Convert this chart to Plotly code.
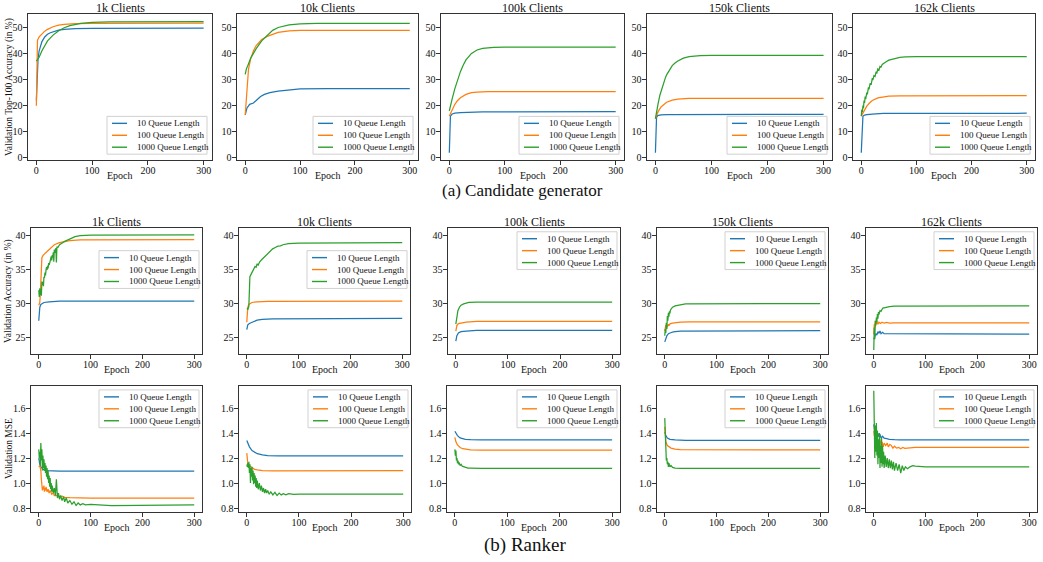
import plotly.graph_objects as go

W, H = 1043, 562
FONT = "Liberation Serif"

SERIES = ["10 Queue Length", "100 Queue Length", "1000 Queue Length"]
COLORS = ["#1f77b4", "#ff7f0e", "#2ca02c"]
CLIENTS = ["1k Clients", "10k Clients", "100k Clients", "150k Clients", "162k Clients"]
X_TICKS = [0, 100, 200, 300]
CG_Y_TICKS = [0, 10, 20, 30, 40, 50]
RA_Y_TICKS = [25, 30, 35, 40]
RM_Y_TICKS = [0.8, 1.0, 1.2, 1.4, 1.6]
ROW_YLABELS = ["Validation Top-100 Accuracy (in %)", "Validation Accuracy (in %)", "Validation MSE"]
X_LABEL = "Epoch"
CAPTIONS = ["(a) Candidate generator", "(b) Ranker"]

# ---------------- (a) Candidate generator: top-100 accuracy (epoch, value) ----------------
CG_1K_Q10 = [(0, 22), (1, 30), (2, 35), (3, 38), (5, 41), (8, 43.5), (10, 44.5), (15, 46.3), (20, 47.3),
             (25, 47.9), (30, 48.3), (40, 48.9), (50, 49.2), (70, 49.5), (100, 49.6), (300, 49.7)]
CG_1K_Q100 = [(0, 20), (1, 44), (2, 45), (5, 46.3), (10, 47.6), (15, 48.5), (20, 49.2), (30, 50.2),
              (40, 50.8), (50, 51.1), (70, 51.4), (100, 51.5), (300, 51.6)]
CG_1K_Q1000 = [(0, 37), (3, 37.8), (5, 38.5), (10, 41), (15, 43), (20, 44.8), (30, 47), (40, 48.7),
               (50, 49.8), (60, 50.6), (80, 51.5), (100, 51.9), (130, 52.1), (300, 52.2)]

CG_10K_Q10 = [(0, 16.5), (3, 19), (8, 20.5), (12, 20.8), (15, 21), (20, 22), (28, 23.5), (35, 24.3),
              (45, 25), (60, 25.6), (80, 26.1), (100, 26.4), (150, 26.5), (300, 26.5)]
CG_10K_Q100 = [(0, 16.5), (2, 24), (4, 30), (6, 34), (10, 38), (15, 41), (20, 43), (30, 45.3), (40, 46.5),
               (50, 47.3), (60, 48), (80, 48.6), (100, 48.8), (300, 48.8)]
CG_10K_Q1000 = [(0, 32), (2, 34), (5, 35.5), (10, 38.2), (15, 40), (20, 41.8), (30, 44.8), (40, 47),
                (50, 48.8), (60, 49.9), (80, 50.9), (100, 51.3), (130, 51.5), (300, 51.5)]

CG_100K_Q10 = [(0, 2), (2, 16), (5, 16.8), (10, 17.1), (20, 17.3), (40, 17.5), (60, 17.6), (300, 17.7)]
CG_100K_Q100 = [(0, 16), (3, 17.5), (5, 18.5), (10, 20.5), (15, 22), (20, 23), (30, 24.3), (40, 25),
                (50, 25.2), (70, 25.4), (300, 25.4)]
CG_100K_Q1000 = [(0, 18), (2, 20), (5, 22.5), (10, 26.5), (15, 30), (20, 33), (25, 35.5), (30, 37.5),
                 (40, 40), (50, 41.3), (60, 41.9), (80, 42.3), (100, 42.4), (300, 42.4)]

CG_150K_Q10 = [(0, 2), (2, 15.5), (4, 16.2), (10, 16.5), (20, 16.6), (300, 16.7)]
CG_150K_Q100 = [(0, 15), (3, 16.8), (5, 17.8), (10, 19.5), (15, 20.6), (20, 21.3), (30, 22.1), (40, 22.5),
                (60, 22.8), (300, 22.8)]
CG_150K_Q1000 = [(0, 15), (2, 18), (5, 21), (8, 24), (10, 25.5), (13, 27.8), (15, 29), (18, 30.8),
                 (20, 31.8), (25, 33.8), (30, 35.3), (35, 36.3), (40, 37.1), (50, 38.2), (60, 38.8),
                 (80, 39.1), (100, 39.2), (300, 39.2)]

CG_162K_Q10 = [(0, 2), (3, 16), (6, 16.4), (10, 16.6), (20, 16.8), (40, 17), (300, 17.1)]
CG_162K_Q100 = [(0, 16), (3, 17.2), (5, 18), (10, 19.8), (15, 21), (20, 22), (30, 23), (40, 23.4),
                (50, 23.6), (70, 23.7), (300, 23.8)]
CG_162K_Q1000 = [(0, 16), (1, 18.5), (2, 17.5), (3, 20), (4, 19), (5, 22), (6, 21), (7, 23.5), (8, 22.5),
                 (10, 25), (11, 24.3), (13, 27), (14, 26.2), (16, 28.5), (18, 28), (20, 30.5), (21, 29.8),
                 (23, 31.5), (25, 31.2), (27, 33), (28, 32.3), (30, 34), (32, 33.6), (34, 35), (36, 34.8),
                 (38, 35.8), (40, 36), (45, 36.8), (50, 37.4), (60, 38.1), (70, 38.5), (80, 38.7),
                 (100, 38.8), (300, 38.8)]

# ---------------- (b) Ranker: validation accuracy ----------------
RA_1K_Q10 = [(0, 27.5), (1, 28.8), (2, 29.5), (4, 29.9), (7, 30.1), (10, 30.2), (20, 30.3), (40, 30.4),
             (300, 30.4)]
RA_1K_Q100 = [(0, 29.8), (2, 30.2), (3, 31.5), (4, 34), (5, 36), (6, 36.8), (8, 37.1), (10, 37.3),
              (13, 37.5), (16, 37.7), (20, 38), (25, 38.4), (30, 38.7), (40, 39.0), (50, 39.2), (60, 39.3),
              (80, 39.4), (300, 39.45)]
RA_1K_Q1000 = [(0, 32), (1, 31), (2, 32.3), (3, 31.3), (4, 32.2), (5, 31.2), (6, 33.3), (7, 32.8), (8, 33.2),
               (9, 32.6), (10, 34), (11, 33.8), (12, 34.6), (13, 34.2), (14, 35), (15, 35.4), (16, 35),
               (17, 35.6), (18, 35.2), (19, 36), (20, 35.7), (22, 36.3), (24, 37), (25, 36.4), (26, 37.2),
               (27, 36.8), (28, 37.6), (29, 36.2), (30, 38), (31, 37.5), (33, 38.2), (34, 36.1), (35, 38.4),
               (37, 38.3), (40, 38.7), (43, 38.9), (46, 39), (50, 39.2), (55, 39.4), (60, 39.6), (65, 39.8),
               (70, 39.9), (80, 40.05), (100, 40.1), (300, 40.15)]

RA_10K_Q10 = [(0, 26.2), (1, 26.6), (2, 26.9), (5, 27.1), (10, 27.3), (20, 27.6), (30, 27.7), (50, 27.8),
              (300, 27.85)]
RA_10K_Q100 = [(0, 27.3), (1, 28.5), (2, 29.5), (4, 29.9), (7, 30.1), (10, 30.2), (20, 30.3), (40, 30.35),
               (300, 30.4)]
RA_10K_Q1000 = [(0, 29.3), (2, 29.2), (4, 29.6), (5, 31), (6, 34), (8, 34.3), (10, 34.6), (12, 34.9),
                (14, 35.1), (16, 35.5), (18, 35.4), (20, 35.9), (22, 35.7), (25, 36.2), (30, 36.6), (35, 37),
                (40, 37.4), (45, 37.8), (50, 38.1), (55, 38.3), (60, 38.5), (65, 38.55), (70, 38.7),
                (80, 38.85), (100, 38.95), (300, 39.0)]

RA_100K_Q10 = [(0, 24.5), (2, 25.3), (5, 25.7), (10, 25.9), (20, 26), (40, 26.1), (300, 26.1)]
RA_100K_Q100 = [(0, 26), (2, 26.8), (5, 27.1), (10, 27.2), (20, 27.3), (40, 27.4), (300, 27.4)]
RA_100K_Q1000 = [(0, 27), (2, 28.3), (4, 29), (7, 29.5), (10, 29.8), (15, 30), (25, 30.2), (40, 30.25),
                 (300, 30.25)]

RA_150K_Q10 = [(0, 24.4), (2, 25), (4, 25.3), (7, 25.6), (10, 25.7), (15, 25.85), (20, 25.9), (30, 26),
               (300, 26.05)]
RA_150K_Q100 = [(0, 26), (2, 26.9), (3, 26.5), (4, 26.9), (5, 26.6), (7, 27), (8, 26.8), (10, 27.05),
                (15, 27.15), (20, 27.2), (30, 27.3), (50, 27.35), (300, 27.35)]
RA_150K_Q1000 = [(0, 25.3), (1, 26.3), (2, 25.7), (3, 27.2), (4, 26.3), (5, 28.2), (6, 27.5), (7, 28.7),
                 (8, 28.1), (9, 28.9), (10, 28.6), (11, 29.1), (13, 29.3), (15, 29.5), (20, 29.7),
                 (25, 29.8), (30, 29.9), (40, 30), (300, 30.05)]

RA_162K_Q10 = [(0, 24.8), (2, 25.3), (4, 25.6), (6, 25.4), (8, 25.9), (10, 25.7), (12, 26), (14, 25.6),
               (17, 25.8), (20, 25.6), (30, 25.6), (50, 25.55), (300, 25.55)]
RA_162K_Q100 = [(0, 25.5), (1, 27), (2, 26.5), (3, 27.5), (4, 27), (6, 27.4), (8, 27), (10, 27.3),
                (13, 27.1), (16, 27.3), (20, 27.15), (25, 27.25), (30, 27.15), (40, 27.2), (300, 27.2)]
RA_162K_Q1000 = [(0, 23.2), (1, 26.5), (2, 24.8), (3, 27.5), (4, 26.8), (5, 28), (6, 27.3), (7, 28.5),
                 (8, 27.8), (9, 28.8), (10, 28.4), (12, 29), (14, 28.9), (16, 29.2), (18, 29.4), (20, 29.4),
                 (25, 29.5), (30, 29.6), (40, 29.65), (300, 29.7)]

# ---------------- (b) Ranker: validation MSE ----------------
RM_1K_Q10 = [(0, 1.2), (1, 1.17), (2, 1.15), (4, 1.13), (7, 1.115), (10, 1.105), (15, 1.1), (25, 1.097),
             (40, 1.095), (300, 1.095)]
RM_1K_Q100 = [(0, 1.13), (2, 1.14), (3, 1.12), (4, 1.1), (5, 1.03), (6, 0.98), (7, 0.94), (8, 0.97),
              (9, 0.95), (10, 0.98), (11, 0.93), (12, 0.96), (13, 0.94), (14, 0.97), (16, 0.93), (18, 0.95),
              (20, 0.92), (22, 0.94), (25, 0.91), (28, 0.92), (30, 0.9), (35, 0.9), (40, 0.89), (45, 0.895),
              (50, 0.885), (60, 0.883), (80, 0.88), (100, 0.88), (300, 0.88)]
RM_1K_Q1000 = [(0, 1.27), (1, 1.2), (2, 1.25), (3, 1.14), (4, 1.32), (5, 1.18), (6, 1.27), (7, 1.1),
               (8, 1.22), (9, 1.12), (10, 1.19), (11, 1.1), (12, 1.16), (13, 1.08), (14, 1.14), (15, 1.05),
               (16, 1.12), (17, 1.03), (18, 1.1), (19, 1.0), (20, 1.06), (21, 0.97), (22, 1.04), (23, 0.95),
               (24, 1.0), (25, 0.93), (26, 0.98), (28, 0.92), (30, 0.96), (32, 0.9), (34, 1.03), (36, 0.88),
               (38, 0.92), (40, 0.87), (42, 0.9), (45, 0.86), (48, 0.89), (50, 0.85), (53, 0.88), (56, 0.84),
               (60, 0.86), (64, 0.83), (68, 0.85), (72, 0.82), (76, 0.84), (80, 0.825), (85, 0.835),
               (90, 0.825), (100, 0.83), (120, 0.825), (140, 0.82), (300, 0.825)]

RM_10K_Q10 = [(0, 1.34), (2, 1.32), (5, 1.29), (10, 1.26), (15, 1.245), (20, 1.235), (30, 1.225),
              (40, 1.22), (60, 1.218), (300, 1.217)]
RM_10K_Q100 = [(0, 1.24), (1, 1.18), (2, 1.15), (4, 1.14), (7, 1.13), (10, 1.12), (15, 1.11), (20, 1.105),
               (30, 1.1), (50, 1.098), (300, 1.1)]
RM_10K_Q1000 = [(0, 1.15), (1, 1.13), (2, 1.16), (3, 1.12), (4, 1.17), (5, 1.08), (6, 1.15), (7, 1.0),
                (8, 1.12), (9, 1.05), (10, 1.13), (11, 1.02), (12, 1.1), (13, 0.99), (14, 1.08), (15, 1.0),
                (16, 1.06), (17, 0.97), (18, 1.04), (19, 0.96), (20, 1.02), (22, 0.95), (24, 1.0), (26, 0.94),
                (28, 0.98), (30, 0.93), (32, 0.96), (34, 0.92), (36, 0.95), (38, 0.92), (40, 0.94),
                (43, 0.91), (46, 0.93), (50, 0.905), (54, 0.925), (58, 0.9), (62, 0.92), (66, 0.905),
                (70, 0.915), (75, 0.905), (80, 0.915), (90, 0.91), (100, 0.912), (300, 0.912)]

RM_100K_Q10 = [(0, 1.415), (2, 1.4), (5, 1.38), (10, 1.362), (15, 1.353), (20, 1.35), (30, 1.347),
               (50, 1.345), (300, 1.345)]
RM_100K_Q100 = [(0, 1.365), (2, 1.33), (5, 1.305), (10, 1.285), (15, 1.275), (20, 1.27), (30, 1.266),
                (50, 1.263), (300, 1.263)]
RM_100K_Q1000 = [(0, 1.27), (1, 1.22), (2, 1.26), (3, 1.18), (4, 1.2), (5, 1.16), (6, 1.18), (7, 1.15),
                 (8, 1.165), (10, 1.14), (12, 1.15), (14, 1.135), (17, 1.13), (20, 1.125), (25, 1.12),
                 (30, 1.12), (50, 1.118), (300, 1.118)]

RM_150K_Q10 = [(0, 1.41), (2, 1.38), (5, 1.36), (10, 1.35), (20, 1.345), (40, 1.342), (300, 1.342)]
RM_150K_Q100 = [(0, 1.45), (1, 1.38), (2, 1.33), (5, 1.3), (8, 1.29), (12, 1.28), (20, 1.272), (30, 1.268),
                (300, 1.265)]
RM_150K_Q1000 = [(0, 1.52), (1, 1.35), (2, 1.22), (3, 1.18), (4, 1.2), (5, 1.15), (6, 1.17), (7, 1.13),
                 (8, 1.16), (10, 1.13), (12, 1.14), (15, 1.125), (20, 1.12), (30, 1.118), (300, 1.117)]

RM_162K_Q10 = [(0, 1.47), (2, 1.41), (3, 1.38), (4, 1.4), (6, 1.37), (8, 1.4), (10, 1.37), (12, 1.39),
               (14, 1.36), (17, 1.375), (20, 1.36), (25, 1.355), (30, 1.35), (40, 1.347), (50, 1.345),
               (300, 1.345)]
RM_162K_Q100 = [(0, 1.42), (1, 1.38), (2, 1.45), (3, 1.32), (4, 1.4), (5, 1.3), (6, 1.36), (7, 1.3),
                (8, 1.34), (10, 1.31), (12, 1.35), (14, 1.3), (16, 1.33), (18, 1.29), (20, 1.32), (23, 1.3),
                (26, 1.32), (28, 1.29), (31, 1.31), (34, 1.3), (37, 1.28), (40, 1.295), (44, 1.28),
                (48, 1.285), (52, 1.275), (56, 1.285), (60, 1.278), (70, 1.283), (80, 1.285), (300, 1.285)]
RM_162K_Q1000 = [(0, 1.74), (1, 1.4), (2, 1.2), (3, 1.46), (4, 1.25), (5, 1.48), (6, 1.22), (7, 1.42),
                 (8, 1.15), (9, 1.35), (10, 1.2), (11, 1.4), (12, 1.12), (13, 1.3), (14, 1.16), (15, 1.36),
                 (16, 1.13), (17, 1.3), (18, 1.15), (19, 1.25), (20, 1.12), (22, 1.22), (24, 1.13), (26, 1.2),
                 (28, 1.12), (30, 1.19), (32, 1.12), (34, 1.18), (36, 1.11), (38, 1.17), (40, 1.1), (43, 1.16),
                 (46, 1.1), (49, 1.15), (52, 1.08), (55, 1.14), (58, 1.1), (61, 1.13), (65, 1.115), (70, 1.13),
                 (75, 1.14), (80, 1.135), (90, 1.13), (100, 1.13), (300, 1.13)]

PANELS = [
    [(CG_1K_Q10, CG_1K_Q100, CG_1K_Q1000), (CG_10K_Q10, CG_10K_Q100, CG_10K_Q1000),
     (CG_100K_Q10, CG_100K_Q100, CG_100K_Q1000), (CG_150K_Q10, CG_150K_Q100, CG_150K_Q1000),
     (CG_162K_Q10, CG_162K_Q100, CG_162K_Q1000)],
    [(RA_1K_Q10, RA_1K_Q100, RA_1K_Q1000), (RA_10K_Q10, RA_10K_Q100, RA_10K_Q1000),
     (RA_100K_Q10, RA_100K_Q100, RA_100K_Q1000), (RA_150K_Q10, RA_150K_Q100, RA_150K_Q1000),
     (RA_162K_Q10, RA_162K_Q100, RA_162K_Q1000)],
    [(RM_1K_Q10, RM_1K_Q100, RM_1K_Q1000), (RM_10K_Q10, RM_10K_Q100, RM_10K_Q1000),
     (RM_100K_Q10, RM_100K_Q100, RM_100K_Q1000), (RM_150K_Q10, RM_150K_Q100, RM_150K_Q1000),
     (RM_162K_Q10, RM_162K_Q100, RM_162K_Q1000)],
]
ROW_YTICKS = [CG_Y_TICKS, RA_Y_TICKS, RM_Y_TICKS]
ROW_HAS_TITLE = [True, True, False]

# ---------------- layout geometry (pixels) ----------------
ROW_BOX = [(14, 161), (229, 356), (388, 515)]
COL_BOX = [
    [(28, 212), (237, 418), (441, 624), (647, 832), (853, 1035)],
    [(31, 202), (239, 410), (448, 620), (657, 828), (866, 1037)],
    [(31, 202), (239, 411), (447, 620), (657, 828), (866, 1037)],
]
Y_RANGES = [[-0.85, 55.1], [22.6, 41.2], [0.766, 1.778]]
X_RANGE = [-15, 315]
LEG_POS = [
    [("bottom", 6)] * 5,
    [("top", 23), ("top", 23), ("top", 4), ("top", 4), ("top", 4)],
    [("top", 4)] * 5,
]
LEG_W, LEG_H = 100, 38


def px(xp):
    return xp / W


def py(yp):
    return 1 - yp / H


fig = go.Figure()
annotations = []
shapes = []
layout_axes = {}

for i in range(3):
    t, b = ROW_BOX[i]
    for j in range(5):
        n = i * 5 + j + 1
        l, r = COL_BOX[i][j]
        xn = "x" if n == 1 else f"x{n}"
        yn = "y" if n == 1 else f"y{n}"
        for k, pts in enumerate(PANELS[i][j]):
            fig.add_trace(go.Scatter(
                x=[p[0] for p in pts], y=[p[1] for p in pts], mode="lines",
                name=SERIES[k], line=dict(color=COLORS[k], width=1.25),
                xaxis=xn, yaxis=yn, showlegend=False, hoverinfo="x+y+name"))
        common = dict(showline=True, mirror=True, linecolor="#333", linewidth=1.1,
                      ticks="outside", ticklen=3.5, tickwidth=0.8, tickcolor="#333",
                      showgrid=False, zeroline=False,
                      tickfont=dict(family=FONT, size=10, color="#111"))
        layout_axes["xaxis" if n == 1 else f"xaxis{n}"] = dict(
            domain=[px(l), px(r)], range=X_RANGE, tickvals=X_TICKS, anchor=yn,
            ticklabelstandoff=-3, **common)
        layout_axes["yaxis" if n == 1 else f"yaxis{n}"] = dict(
            domain=[py(b), py(t)], range=Y_RANGES[i], tickvals=ROW_YTICKS[i], anchor=xn,
            tickformat=".1f" if i == 2 else "d", ticklabelstandoff=-1, **common)

        if ROW_HAS_TITLE[i]:
            annotations.append(dict(text=CLIENTS[j], x=px((l + r) / 2), y=py(t - 5.5), xref="paper",
                                    yref="paper", showarrow=False, xanchor="center", yanchor="middle",
                                    font=dict(family=FONT, size=12, color="#111")))
        annotations.append(dict(text=X_LABEL, x=px((l + r) / 2), y=py(b + 15), xref="paper", yref="paper",
                                showarrow=False, xanchor="center", yanchor="middle",
                                font=dict(family=FONT, size=10, color="#111")))

        # legend box
        kind, off = LEG_POS[i][j]
        lr = r - 3 if i > 0 else r - 5
        ll = lr - LEG_W
        if kind == "bottom":
            lb = b - off
            lt = lb - LEG_H
        else:
            lt = t + off
            lb = lt + LEG_H
        shapes.append(dict(type="rect", xref="paper", yref="paper", x0=px(ll), x1=px(lr), y0=py(lb), y1=py(lt),
                           fillcolor="rgba(255,255,255,0.85)", line=dict(color="#cccccc", width=0.9),
                           layer="above"))
        for k in range(3):
            yc = lt + 7 + 12 * k
            shapes.append(dict(type="line", xref="paper", yref="paper", x0=px(ll + 5), x1=px(ll + 20),
                               y0=py(yc), y1=py(yc), line=dict(color=COLORS[k], width=1.4), layer="above"))
            annotations.append(dict(text=SERIES[k], x=px(ll + 28), y=py(yc), xref="paper", yref="paper",
                                    showarrow=False, xanchor="left", yanchor="middle",
                                    font=dict(family=FONT, size=9, color="#111")))

    annotations.append(dict(text=ROW_YLABELS[i], x=px(9), y=py((t + b) / 2), xref="paper", yref="paper",
                            showarrow=False, textangle=-90, xanchor="center", yanchor="middle",
                            font=dict(family=FONT, size=9.5, color="#111")))

annotations.append(dict(text=CAPTIONS[0], x=px(522), y=py(192), xref="paper", yref="paper", showarrow=False,
                        xanchor="center", yanchor="middle", font=dict(family=FONT, size=17, color="#111")))
annotations.append(dict(text=CAPTIONS[1], x=px(525), y=py(548), xref="paper", yref="paper", showarrow=False,
                        xanchor="center", yanchor="middle", font=dict(family=FONT, size=19, color="#111")))

fig.update_layout(
    width=W, height=H, margin=dict(l=0, r=0, t=0, b=0),
    paper_bgcolor="white", plot_bgcolor="white",
    font=dict(family=FONT, color="#111"),
    annotations=annotations, shapes=shapes, showlegend=False,
    **layout_axes)

fig.write_html("out.html")
